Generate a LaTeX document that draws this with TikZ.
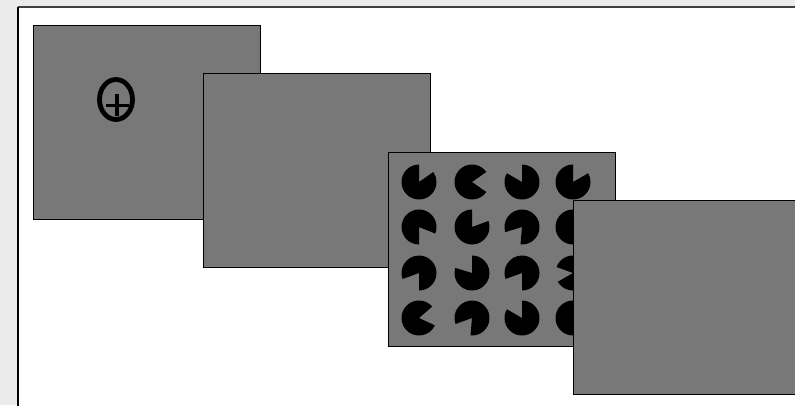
\documentclass[tikz,border=0pt]{standalone}
\begin{document}
\begin{tikzpicture}[x=1pt,y=1pt,
  panel/.style={draw=black,line width=0.9pt,fill=panelgray},
]
\definecolor{panelgray}{RGB}{120,120,120}
\definecolor{outerbg}{RGB}{235,235,235}
\useasboundingbox (0,0) rectangle (795,405);
\fill[outerbg] (0,0) rectangle (795,405);
% white sheet
\fill[white] (18,-5) rectangle (800,398);
\draw[black!75,line width=1.5pt] (18,398) -- (800,398);
\draw[black,line width=1.4pt] (18,398) -- (18,-5);
% panel 1 with fixation
\node[panel,draw,minimum width=227pt,minimum height=194pt,inner sep=0pt,anchor=south west] (p1) at (33,185) {};
\draw[line width=4.8pt] (116,305.5) ellipse[x radius=16.5, y radius=20];
\draw[line width=3.4pt] (117,310.5) -- (117,288.5);
\draw[line width=3.4pt] (106,299.5) -- (129,299.5);
% panel 2
\node[panel,minimum width=227pt,minimum height=194pt,inner sep=0pt,anchor=south west] (p2) at (203,137) {};
% panel 3 with pacmen
\node[panel,minimum width=227pt,minimum height=194pt,inner sep=0pt,anchor=south west] (p3) at (388,58) {};
\foreach \cx/\cy/\ga/\gb in {
  419/223/35/90, 472/223/-35/35, 522/223/90/150, 573/223/30/90,
  419/178/-90/-22, 472/178/20/90, 522/178/197/265, 573/178/-30/30,
  419/132/200/270, 472/132/90/163, 522/132/200/270, 573/132/160/210,
  419/87/-25/41, 472/87/200/265, 522/87/90/150, 573/87/-30/30}{
  \pgfmathsetmacro{\ee}{\ga+360}
  \fill[black] (\cx,\cy) -- ++(\gb:17.5) arc[start angle=\gb, end angle=\ee, radius=17.5] -- cycle;
}
% panel 4
\node[panel,minimum width=227pt,minimum height=194pt,inner sep=0pt,anchor=south west] (p4) at (573,10) {};
\end{tikzpicture}
\end{document}
